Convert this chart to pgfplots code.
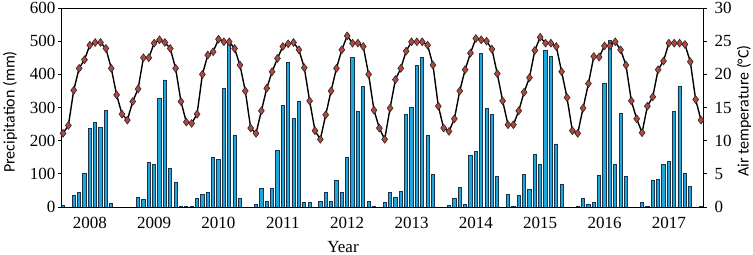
\documentclass[border=0pt]{standalone}
\usepackage{pgfplots}
\pgfplotsset{compat=1.18}
\usepackage{fontspec}
\setmainfont{Liberation Serif}
\newfontfamily\lblfont{Carlito}
\definecolor{barfill}{HTML}{1CA7DE}
\definecolor{baredge}{HTML}{1B3349}
\definecolor{mk}{HTML}{B5473F}
\pgfplotstableread{
m p t
0 4 11.1
1 0 12.3
2 35 17.6
3 44 20.9
4 101 22.2
5 237 24.4
6 256 24.8
7 240 24.8
8 291 23.9
9 10 20.9
10 0 16.9
11 0 14.0
12 0 13.1
13 0 15.9
14 29 17.8
15 22 22.5
16 133 22.5
17 127 24.7
18 326 25.2
19 383 24.8
20 115 23.9
21 74 20.9
22 2 15.9
23 2 12.8
24 2 12.6
25 25 14.0
26 37 20.0
27 45 22.9
28 150 23.4
29 143 25.3
30 356 24.9
31 492 24.9
32 217 23.9
33 25 21.4
34 0 17.5
35 0 11.9
36 8 11.1
37 55 14.5
38 18 17.9
39 57 20.4
40 169 22.4
41 307 24.2
42 437 24.6
43 267 24.8
44 319 23.7
45 14 21.0
46 14 16.0
47 0 11.5
48 18 10.2
49 44 13.9
50 18 17.5
51 80 20.9
52 44 23.7
53 150 25.8
54 450 24.7
55 289 24.7
56 362 24.2
57 16 20.0
58 3 14.6
59 0 11.9
60 14 10.2
61 45 14.9
62 29 19.2
63 46 20.9
64 280 23.5
65 300 24.9
66 427 24.9
67 450 24.9
68 217 24.4
69 97 21.4
70 0 15.2
71 0 11.9
72 6 11.4
73 27 13.3
74 59 17.5
75 7 20.7
76 155 23.2
77 166 25.4
78 462 25.2
79 296 25.0
80 279 23.8
81 92 20.1
82 0 16.0
83 39 12.4
84 3 12.4
85 36 14.5
86 98 17.3
87 52 19.5
88 157 23.6
89 128 25.6
90 472 24.7
91 453 24.7
92 190 24.2
93 69 20.4
94 0 16.5
95 0 11.5
96 3 11.1
97 27 14.9
98 8 18.6
99 13 22.7
100 95 22.6
101 372 24.3
102 503 24.3
103 128 24.9
104 283 23.7
105 92 21.4
106 0 16.0
107 0 13.3
108 15 11.2
109 3 15.2
110 80 16.6
111 84 20.7
112 127 22.0
113 137 24.7
114 287 24.7
115 364 24.7
116 101 24.5
117 63 21.9
118 0 16.2
119 2 13.1
}\data
\begin{document}
\begin{tikzpicture}
\useasboundingbox (-62bp,-48bp) rectangle (691bp,207bp);
\pgfplotsset{
  common/.style={
    at={(0bp,0bp)}, anchor=south west,
    scale only axis, width=641bp, height=199bp,
    xmin=-0.19, xmax=119.37,
    tick label style={font=\fontsize{17bp}{17bp}\selectfont},
    /pgf/number format/assume math mode=true,
    axis line style={line width=1bp},
    major tick length=4bp,
    tick style={line width=0.9bp, black},
    tick align=outside,
  }
}
\begin{axis}[common,
  ymin=0, ymax=600,
  ytick={0,100,...,600},
  ytick pos=left,
  yticklabel style={xshift=1bp},
  xtick={5,17,29,41,53,65,77,89,101,113},
  xticklabels={2008,2009,2010,2011,2012,2013,2014,2015,2016,2017},
  x tick style={draw=none},
  xticklabel style={yshift=-3bp},
  clip=true,
]
\addplot[ybar, bar width=3.2bp, fill=barfill, draw=baredge, line width=0.9bp] table[x=m,y=p]{\data};
\end{axis}
\begin{axis}[common,
  ymin=0, ymax=30,
  ytick={0,5,...,30},
  yticklabel style={xshift=4bp},
  axis x line=none,
  axis y line*=right,
  clip=false,
]
\addplot[black, line width=1.4bp, mark=diamond*, mark size=3.9bp,
  mark options={fill=mk, draw=black!85, line width=0.6bp}] table[x=m,y=t]{\data};
\end{axis}
\node[rotate=90, font=\lblfont\fontsize{16bp}{16bp}\selectfont] at (-52bp,95bp) {Precipitation (mm)};
\node[rotate=90, font=\lblfont\fontsize{16bp}{16bp}\selectfont] at (682bp,96bp) {Air temperature (°C)};
\node[font=\fontsize{17bp}{17bp}\selectfont] at (281bp,-40bp) {Year};
\end{tikzpicture}
\end{document}
